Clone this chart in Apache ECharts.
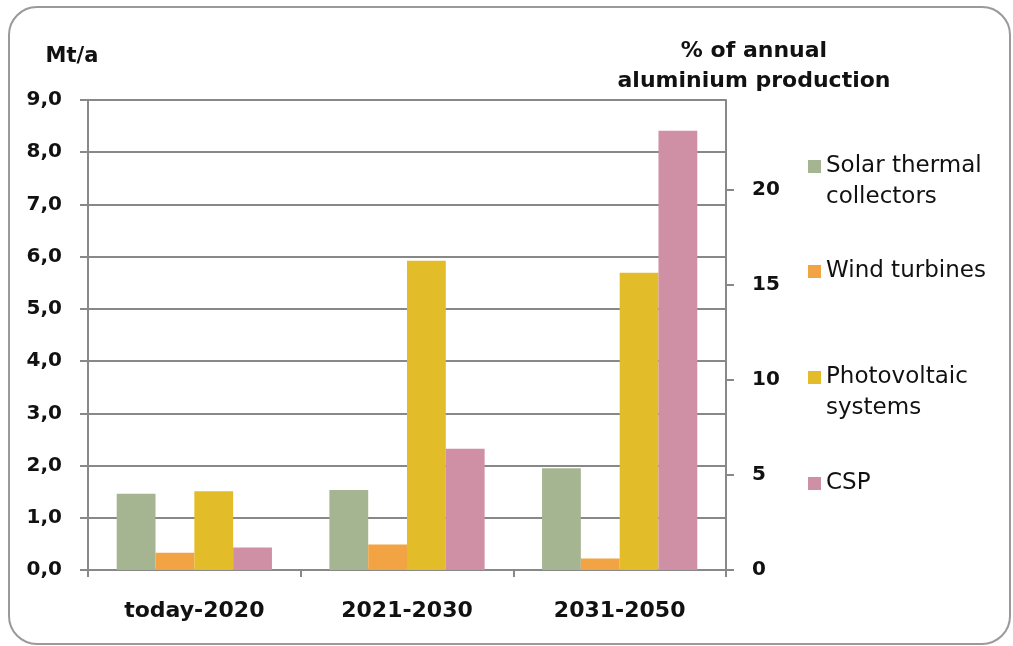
<!DOCTYPE html>
<html>
<head>
<meta charset="utf-8">
<style>
  html, body { margin: 0; padding: 0; background: #ffffff; }
  #chart { width: 1013px; height: 646px; }
</style>
<script src="https://cdn.jsdelivr.net/npm/echarts@6/dist/echarts.min.js"></script>
</head>
<body>
<div id="chart"></div>
<script>
// Aluminium demand of renewable energy technologies (Mt/a)
const categories = ['today-2020', '2021-2030', '2031-2050'];
const solarThermal = [1.46, 1.53, 1.95];
const windTurbines = [0.33, 0.49, 0.22];
const photovoltaic = [1.51, 5.92, 5.69];
const csp = [0.43, 2.32, 8.41];

// Left axis (Mt/a) and right axis (% of annual aluminium production)
const massMax = 9;
const massStep = 1;
const shareMax = 24.7;   // 9 Mt/a expressed as a share of annual production
const shareTicks = [0, 5, 10, 15, 20];

const seriesNames = ['Solar thermal collectors', 'Wind turbines', 'Photovoltaic systems', 'CSP'];
const legendLabels = {
  'Solar thermal collectors': '\nSolar thermal\ncollectors',
  'Wind turbines': 'Wind turbines',
  'Photovoltaic systems': '\nPhotovoltaic\nsystems',
  'CSP': 'CSP'
};
const colors = ['#a5b592', '#f2a445', '#e3bc2a', '#cf8fa5'];

const FONT = 'DejaVu Sans';
const AXIS_GRAY = '#888888';

const chart = echarts.init(document.getElementById('chart'), null, { renderer: 'canvas' });

function legendAt(name, top) {
  return {
    data: [name],
    left: 808,
    top: top,
    padding: 0,
    itemWidth: 13,
    itemHeight: 13,
    icon: 'rect',
    selectedMode: false,
    formatter: (n) => legendLabels[n],
    textStyle: { fontFamily: FONT, fontSize: 23, lineHeight: 31, color: '#111' }
  };
}

const option = {
  backgroundColor: '#ffffff',
  animation: false,
  color: colors,
  graphic: [{
    type: 'rect',
    shape: { x: 9, y: 7, width: 1001, height: 637, r: 28 },
    style: { fill: 'none', stroke: '#9a9a9a', lineWidth: 2 },
    silent: true,
    z: -1
  }],
  grid: { left: 88, right: 287, top: 100, bottom: 76, containLabel: false },
  legend: [
    legendAt(seriesNames[0], 120),
    legendAt(seriesNames[1], 256),
    legendAt(seriesNames[2], 331),
    legendAt(seriesNames[3], 468)
  ],
  xAxis: {
    type: 'category',
    data: categories,
    axisLine: { lineStyle: { color: AXIS_GRAY, width: 2 } },
    axisTick: { show: true, length: 7, lineStyle: { color: AXIS_GRAY, width: 2 } },
    axisLabel: { fontFamily: FONT, fontSize: 22, fontWeight: 'bold', color: '#111', margin: 30 }
  },
  yAxis: [{
    type: 'value',
    min: 0,
    max: massMax,
    interval: massStep,
    name: 'Mt/a',
    nameLocation: 'end',
    nameGap: 33,
    nameTextStyle: { fontFamily: FONT, fontSize: 21, fontWeight: 'bold', color: '#111', align: 'center', padding: [0, 32, 0, 0] },
    axisLine: { show: true, lineStyle: { color: AXIS_GRAY, width: 2 } },
    axisTick: { show: true, length: 8, lineStyle: { color: AXIS_GRAY, width: 2 } },
    splitLine: { show: true, lineStyle: { color: AXIS_GRAY, width: 2 } },
    axisLabel: {
      fontFamily: FONT, fontSize: 20, fontWeight: 'bold', color: '#111', margin: 26,
      formatter: (v) => v.toFixed(1).replace('.', ',')
    }
  }, {
    type: 'value',
    position: 'right',
    min: 0,
    max: shareMax,
    name: '% of annual\naluminium production',
    nameLocation: 'end',
    nameGap: 4,
    nameTextStyle: { fontFamily: FONT, fontSize: 22, fontWeight: 'bold', color: '#111', lineHeight: 30, align: 'center', padding: [0, 0, 0, 56] },
    axisLine: { show: true, lineStyle: { color: AXIS_GRAY, width: 2 } },
    axisTick: { show: true, length: 8, customValues: shareTicks, lineStyle: { color: AXIS_GRAY, width: 2 } },
    splitLine: { show: false },
    axisLabel: {
      fontFamily: FONT, fontSize: 20, fontWeight: 'bold', color: '#111', margin: 26,
      customValues: shareTicks
    }
  }],
  series: [
    { name: seriesNames[0], type: 'bar', data: solarThermal, barGap: '0%', barCategoryGap: '27%' },
    { name: seriesNames[1], type: 'bar', data: windTurbines, barGap: '0%', barCategoryGap: '27%' },
    { name: seriesNames[2], type: 'bar', data: photovoltaic, barGap: '0%', barCategoryGap: '27%' },
    { name: seriesNames[3], type: 'bar', data: csp, barGap: '0%', barCategoryGap: '27%' }
  ]
};

chart.setOption(option);
</script>
</body>
</html>
